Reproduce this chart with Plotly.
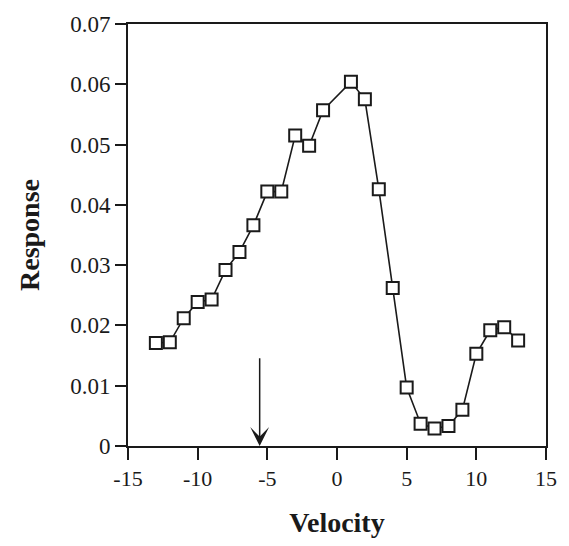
import plotly.graph_objects as go

velocity = [-13, -12, -11, -10, -9, -8, -7, -6, -5, -4, -3, -2, -1,
            1, 2, 3, 4, 5, 6, 7, 8, 9, 10, 11, 12, 13]
response = [0.0171, 0.0172, 0.0212, 0.0239, 0.0243, 0.0292, 0.0322, 0.0366,
            0.0422, 0.0422, 0.0515, 0.0498, 0.0557,
            0.0604, 0.0575, 0.0426, 0.0262, 0.0097, 0.0037, 0.0029, 0.0033,
            0.0060, 0.0153, 0.0192, 0.0197, 0.0175]

arrow_x = -5.55
arrow_top = 0.0148
arrow_tip = 0.0

x_ticks = [-15, -10, -5, 0, 5, 10, 15]
x_tick_labels = ["-15", "-10", "-5", "0", "5", "10", "15"]
y_ticks = [0, 0.01, 0.02, 0.03, 0.04, 0.05, 0.06, 0.07]
y_tick_labels = ["0", "0.01", "0.02", "0.03", "0.04", "0.05", "0.06", "0.07"]

ink = "#1a1a1a"
serif = "Liberation Serif, Times New Roman, serif"

fig = go.Figure()
fig.add_trace(go.Scatter(
    x=velocity, y=response, mode="lines+markers",
    line=dict(color=ink, width=1.6),
    marker=dict(symbol="square", size=12, color="white",
                line=dict(color=ink, width=2)),
    showlegend=False, cliponaxis=False,
))

fig.add_annotation(
    x=arrow_x, y=arrow_tip, ax=arrow_x, ay=arrow_top,
    xref="x", yref="y", axref="x", ayref="y",
    text="", showarrow=True, arrowhead=3, arrowsize=2.1,
    arrowwidth=1.5, arrowcolor=ink, standoff=0,
)

fig.update_layout(
    width=569, height=546,
    margin=dict(l=128, r=13, t=19, b=100),
    paper_bgcolor="white", plot_bgcolor="white",
    font=dict(family=serif, color=ink, size=22),
)
fig.update_xaxes(
    range=[-15, 15], tickvals=x_ticks, ticktext=x_tick_labels,
    ticks="outside", ticklen=12, tickwidth=1.5, tickcolor=ink,
    showline=True, linecolor=ink, linewidth=2, mirror=True,
    showgrid=False, zeroline=False,
    tickfont=dict(size=22, family=serif),
    title=dict(text="<b>Velocity</b>", font=dict(size=28, family=serif), standoff=22),
)
fig.update_yaxes(
    range=[0, 0.07], tickvals=y_ticks, ticktext=y_tick_labels,
    ticks="outside", ticklen=11, tickwidth=1.5, tickcolor=ink,
    showline=True, linecolor=ink, linewidth=2, mirror=True,
    showgrid=False, zeroline=False,
    tickfont=dict(size=23, family=serif),
    title=dict(text="<b>Response</b>", font=dict(size=28, family=serif), standoff=22),
)

fig.write_html("out.html")
